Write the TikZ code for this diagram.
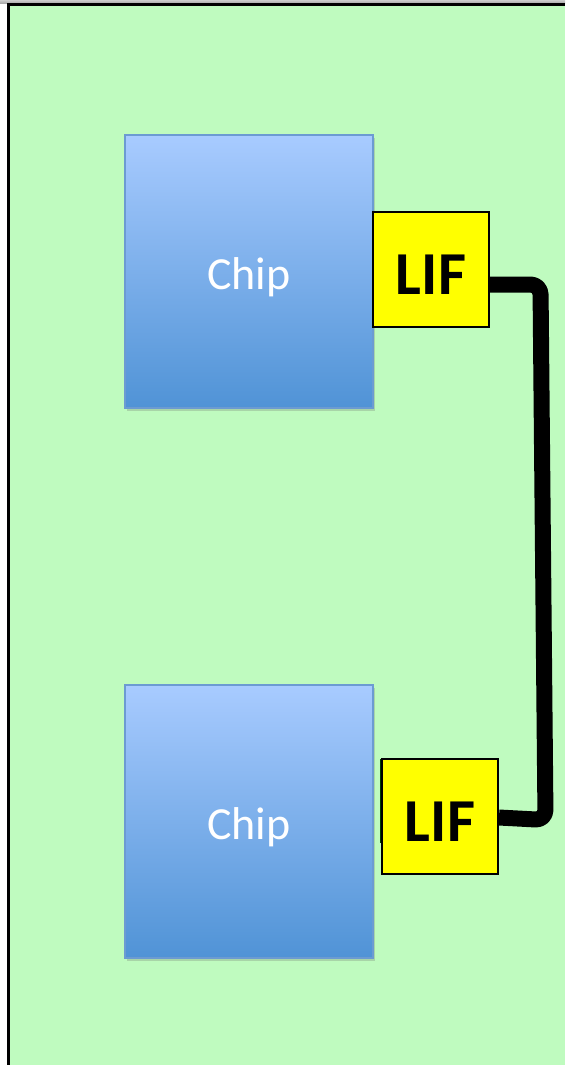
\documentclass[tikz,border=0pt]{standalone}
\usepackage{fontspec}
\setmainfont{Carlito}
\usetikzlibrary{shadows}
\definecolor{boardgreen}{RGB}{191,251,191}
\definecolor{chiptop}{RGB}{168,203,255}
\definecolor{chipbottom}{RGB}{80,147,214}
\definecolor{chipedge}{RGB}{108,155,210}
\definecolor{lifyellow}{RGB}{255,255,0}
\begin{document}
\begin{tikzpicture}[x=1pt,y=-1pt,
  chipbox/.style={rectangle, minimum width=248pt, minimum height=273pt,
    top color=chiptop, bottom color=chipbottom, draw=chipedge, line width=1.2pt,
    drop shadow={shadow xshift=2pt, shadow yshift=-3pt, opacity=0.25, fill=black!60},
    text=white, font=\fontsize{46pt}{50pt}\selectfont,
    text height=36pt, text depth=0pt, inner sep=0pt},
  lifbox/.style={rectangle, minimum width=116pt, minimum height=115pt,
    fill=lifyellow, draw=black, line width=2pt,
    font=\bfseries\fontsize{61pt}{64pt}\selectfont,
    text height=49.5pt, text depth=0pt, inner sep=0pt},
  link/.style={line width=16pt, rounded corners=10pt, line join=round}]
\useasboundingbox (0,0) rectangle (565,1065);
% window frame and board background
\fill[white] (0,0) rectangle (565,1065);
\fill[top color=black!20, bottom color=black!35] (0,0) rectangle (565,3.5);
\fill[boardgreen] (8.5,5) rectangle (565,1065);
\draw[line width=3pt] (8.5,1065) -- (8.5,5) -- (565,5);
% chips with their link interfaces
\node[chipbox] (chipA) at (249,271.5) {Chip};
\node[chipbox] (chipB) at (249,821.5) {Chip};
\node[lifbox] (lifA) at (431,269.5) {LIF};
\draw[line width=1.5pt, black!75!green] (380.5,759) -- (380.5,843);
\node[lifbox] (lifB) at (440,816.5) {LIF};
% cable between the two interfaces
\coordinate (bendA) at (540.5,284.5);
\coordinate (bendB) at (545.5,820);
\draw[link] ([yshift=-15pt]lifA.east) -- (bendA) -- (bendB) -- ([yshift=-1pt]lifB.east);
\end{tikzpicture}
\end{document}
